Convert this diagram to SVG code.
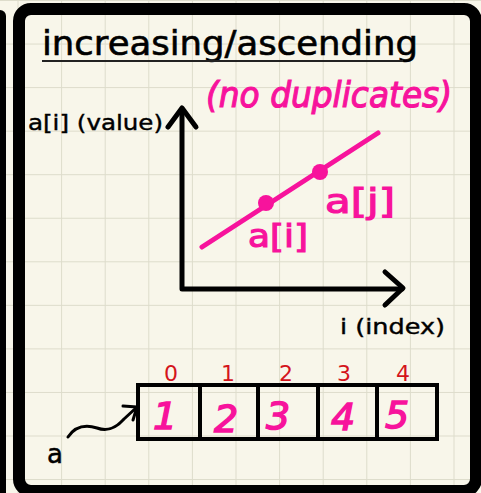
<svg xmlns="http://www.w3.org/2000/svg" width="481" height="493" viewBox="0 0 481 493">
<defs>
<pattern id="grid" x="17.5" y="0" width="43.6" height="43.55" patternUnits="userSpaceOnUse">
<path d="M0 0V43.55M0 0H43.6" fill="none" stroke="#dddccb" stroke-width="2"/>
</pattern>
<style>
.ink{fill:none;stroke:#000;stroke-linecap:round;stroke-linejoin:round}
.pink{fill:#f7139c;stroke:#f7139c;stroke-width:1.2;font-family:"DejaVu Sans",sans-serif}
.blk{fill:#000;font-family:"DejaVu Sans",sans-serif}
.red{fill:#d4141c;font-family:"DejaVu Sans",sans-serif;font-size:22px;text-anchor:middle}
.num{fill:#f7139c;stroke:#f7139c;stroke-width:1.5;font-family:"DejaVu Sans",sans-serif;font-size:38px;text-anchor:middle;font-style:italic}
</style>
</defs>
<rect width="481" height="493" fill="#f8f6ea"/>
<rect width="481" height="493" fill="url(#grid)"/>
<rect x="-10" y="10" width="16" height="500" rx="6" fill="#000"/>
<rect x="19" y="9" width="457" height="482" rx="12" fill="none" stroke="#000" stroke-width="12"/>
<g id="title">
<text x="42" y="55" class="blk" font-size="34" stroke="#000" stroke-width="0.6" textLength="376" lengthAdjust="spacingAndGlyphs">increasing/ascending</text>
<line x1="42" y1="61" x2="403" y2="61" stroke="#222" stroke-width="1.8"/>
</g>
<g id="note">
<text x="206" y="107" class="pink" font-size="36" textLength="246" lengthAdjust="spacingAndGlyphs" font-style="italic">(no duplicates)</text>
</g>
<g id="connectors">
<path class="ink" stroke-width="5" d="M182 110V289H402"/>
<path class="ink" stroke-width="5" d="M168 127L182 108L196 127"/>
<path class="ink" stroke-width="5" d="M385 272L403 288L385 305"/>
<path fill="none" stroke="#f7139c" stroke-width="5" stroke-linecap="round" d="M202 247L378 133"/>
<path class="ink" stroke-width="3" d="M68 437C74 428 84 424 97 428C108 432 116 428 124 419L137 407"/>
<path class="ink" stroke-width="3" d="M123 406L137 407L133 420"/>
</g>
<g id="yaxis-label"><text x="28" y="130" class="blk" font-size="21" stroke="#000" stroke-width="0.4" textLength="135" lengthAdjust="spacingAndGlyphs">a[i] (value)</text></g>
<g id="xaxis-label"><text x="340" y="334" class="blk" font-size="21" stroke="#000" stroke-width="0.4" textLength="105" lengthAdjust="spacingAndGlyphs">i (index)</text></g>
<g id="point-i">
<circle cx="266" cy="203" r="8" fill="#f7139c"/>
<text x="248" y="247" class="pink" font-size="32" textLength="60" lengthAdjust="spacingAndGlyphs">a[i]</text>
</g>
<g id="point-j">
<circle cx="320" cy="172" r="8" fill="#f7139c"/>
<text x="325" y="213" class="pink" font-size="34" textLength="70" lengthAdjust="spacingAndGlyphs">a[j]</text>
</g>
<g id="array">
<rect x="138" y="385" width="299" height="54" fill="none" stroke="#000" stroke-width="4"/>
<path d="M200 385V439M258 385V439M318 385V439M377 385V439" stroke="#000" stroke-width="4"/>
<text x="171" y="381" class="red">0</text>
<text x="228" y="381" class="red">1</text>
<text x="286" y="381" class="red">2</text>
<text x="344" y="381" class="red">3</text>
<text x="403" y="381" class="red">4</text>
<text x="165" y="429" class="num">1</text>
<text x="226" y="432" class="num">2</text>
<text x="278" y="429" class="num">3</text>
<text x="343" y="430" class="num">4</text>
<text x="397" y="428" class="num">5</text>
</g>
<g id="var-a"><text x="47" y="463" class="blk" font-size="26" stroke="#000" stroke-width="0.5">a</text></g>
</svg>
